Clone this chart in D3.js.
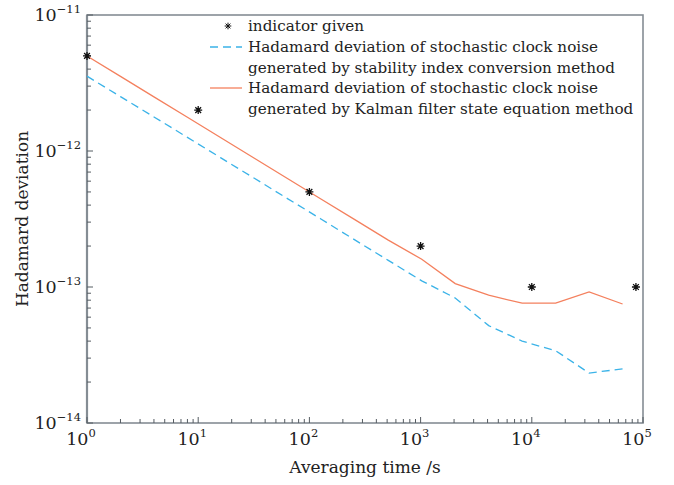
<!DOCTYPE html>
<html><head><meta charset="utf-8">
<script src="https://cdn.jsdelivr.net/npm/d3@7"></script>
<style>body{margin:0;background:#fff}svg{display:block}</style>
</head><body><svg id="c" width="674" height="485"></svg>
<script>
// ---- data ----
const tau = [1,2,4,8,16,32,64,128,256,512,1024,2048,4096,8192,16384,32768,65536];
const kalmanDev = [5.0e-12,3.54e-12,2.5e-12,1.77e-12,1.25e-12,8.85e-13,6.25e-13,4.42e-13,3.13e-13,2.21e-13,1.6e-13,1.06e-13,8.7e-14,7.6e-14,7.6e-14,9.2e-14,7.5e-14];
const conversionDev = [3.55e-12,2.51e-12,1.78e-12,1.26e-12,8.9e-13,6.3e-13,4.45e-13,3.15e-13,2.22e-13,1.57e-13,1.11e-13,8.3e-14,5.2e-14,4.0e-14,3.4e-14,2.33e-14,2.5e-14];
const indicatorTau = [1,10,100,1000,10000,86400];
const indicatorVal = [5e-12,2e-12,5e-13,2e-13,1e-13,1e-13];
const xTickExp = [0,1,2,3,4,5];
const yTickExp = [-14,-13,-12,-11];
const legendLines = [
  ["indicator given"],
  ["Hadamard deviation of stochastic clock noise","generated by stability index conversion method"],
  ["Hadamard deviation of stochastic clock noise","generated by Kalman filter state equation method"]
];
const xTitle = "Averaging time /s";
const yTitle = "Hadamard deviation";

// ---- layout ----
const L=87,R=643,T=15,B=423;
const FONT="DejaVu Serif";
const axisCol="#858d94", redCol="#f4805e", blueCol="#3bb3e8";
const svg=d3.select("#c");
const x=d3.scaleLog().domain([1,1e5]).range([L,R]);
const y=d3.scaleLog().domain([1e-14,1e-11]).range([B,T]);

// frame
svg.append("rect").attr("x",L).attr("y",T).attr("width",R-L).attr("height",B-T)
  .attr("fill","none").attr("stroke",axisCol).attr("stroke-width",1.6);
svg.append("line").attr("x1",L).attr("x2",L).attr("y1",T).attr("y2",B).attr("stroke",axisCol).attr("stroke-width",2.2);

// ticks
const tg=svg.append("g").attr("stroke","#555c62").attr("stroke-width",1);
for(let e=0;e<5;e++) for(let m=1;m<10;m++){
  const v=m*Math.pow(10,e), px=x(v), len=m===1?6:4;
  tg.append("line").attr("x1",px).attr("x2",px).attr("y1",B).attr("y2",B-len);
}
tg.append("line").attr("x1",x(1e5)).attr("x2",x(1e5)).attr("y1",B).attr("y2",B-6);
for(let e=-14;e<-11;e++) for(let m=1;m<10;m++){
  const v=m*Math.pow(10,e), py=y(v), len=m===1?6:4;
  tg.append("line").attr("x1",L).attr("x2",L+len).attr("y1",py).attr("y2",py);
}
tg.append("line").attr("x1",L).attr("x2",L+6).attr("y1",y(1e-11)).attr("y2",y(1e-11));

// tick labels
function pow10(g,e){
  g.append("tspan").text("10");
  g.append("tspan").attr("font-size",11.5).attr("dy",-8).text(e<0?"\u2212"+(-e):String(e));
}
xTickExp.forEach(e=>{
  const t=svg.append("text").attr("x",x(Math.pow(10,e))-6).attr("y",445)
   .attr("text-anchor","middle").attr("font-family",FONT).attr("font-size",17.5).attr("fill","#222");
  pow10(t,e);
});
yTickExp.forEach(e=>{
  const t=svg.append("text").attr("x",81).attr("y",y(Math.pow(10,e))+6)
   .attr("text-anchor","end").attr("font-family",FONT).attr("font-size",17.5).attr("fill","#222");
  pow10(t,e);
});

// titles
svg.append("text").attr("x",(L+R)/2).attr("y",473).attr("text-anchor","middle")
  .attr("font-family",FONT).attr("font-size",17).attr("fill","#222").text(xTitle);
svg.append("text").attr("transform","translate(28,"+((T+B)/2)+") rotate(-90)").attr("text-anchor","middle")
  .attr("font-family",FONT).attr("font-size",17).attr("fill","#222").text(yTitle);

// lines
const line=(vals)=>d3.line().x((d,i)=>x(tau[i])).y(d=>y(d))(vals);
svg.append("path").attr("d",line(conversionDev)).attr("fill","none").attr("stroke",blueCol)
  .attr("stroke-width",1.3).attr("stroke-dasharray","8,5");
svg.append("path").attr("d",line(kalmanDev)).attr("fill","none").attr("stroke",redCol).attr("stroke-width",1.3);

// star marker (8-armed)
const star={draw(ctx,size){const r=Math.sqrt(size)/2,d=r*0.72;
  ctx.moveTo(-r,0);ctx.lineTo(r,0);ctx.moveTo(0,-r);ctx.lineTo(0,r);
  ctx.moveTo(-d,-d);ctx.lineTo(d,d);ctx.moveTo(-d,d);ctx.lineTo(d,-d);}};
const sym=d3.symbol().type(star).size(64);
svg.append("g").selectAll("path").data(indicatorTau).join("path")
  .attr("transform",(d,i)=>`translate(${x(d)},${y(indicatorVal[i])})`)
  .attr("d",sym).attr("fill","none").attr("stroke","#111").attr("stroke-width",1.3);

// legend
const lg=svg.append("g");
lg.append("path").attr("transform","translate(228,26)").attr("d",d3.symbol().type(star).size(44)())
  .attr("fill","none").attr("stroke","#111").attr("stroke-width",1);
lg.append("line").attr("x1",210).attr("x2",242).attr("y1",47).attr("y2",47).attr("stroke",blueCol).attr("stroke-width",1.3).attr("stroke-dasharray","8,5");
lg.append("line").attr("x1",210).attr("x2",242).attr("y1",88).attr("y2",88).attr("stroke",redCol).attr("stroke-width",1.3);
const rows=[26,47,68,88,109];
legendLines.flat().forEach((s,i)=>{
  lg.append("text").attr("x",248).attr("y",rows[i]+5).attr("font-family",FONT).attr("font-size",15.2)
   .attr("fill","#222").text(s);
});
</script></body></html>
